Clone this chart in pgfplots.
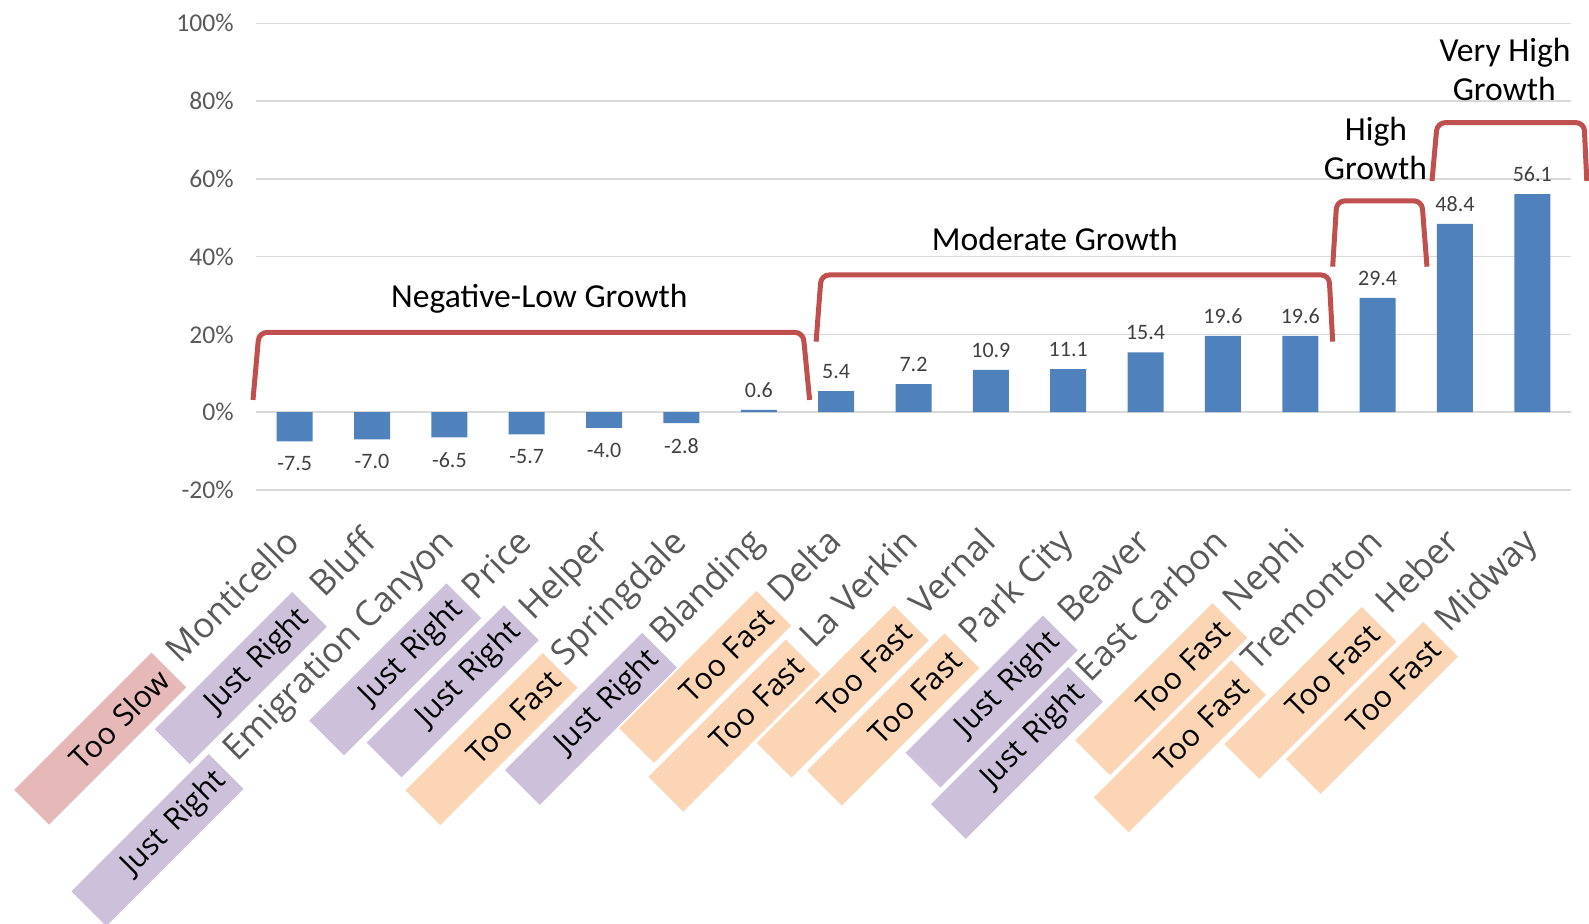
\documentclass[border=0pt]{standalone}
\usepackage{fontspec}
\setmainfont{Carlito}
\newfontfamily\osans{Open Sans}
\usepackage{pgfplots}
\pgfplotsset{compat=1.18}
\definecolor{barblue}{HTML}{4F81BD}
\definecolor{brk}{HTML}{C0504D}
\definecolor{gridc}{HTML}{D9D9D9}
\definecolor{lbl}{HTML}{595959}
\definecolor{dlbl}{HTML}{404040}
\definecolor{slowc}{HTML}{E6B9B8}
\definecolor{jrc}{HTML}{CCC0DA}
\definecolor{fastc}{HTML}{FCD5B5}
\tikzset{
  tag/.style={rotate=45, minimum height=25.5pt, text width=90pt, inner xsep=4pt, inner ysep=0pt,
    align=right, font=\osans\fontsize{15}{18}\selectfont, text=black, draw=white, line width=0.75pt},
  cat/.style={rotate=45, anchor=base east, inner sep=0pt, font=\osans\fontsize{17.5}{20}\selectfont, text=lbl},
  ann/.style={anchor=base, inner sep=0pt, font=\fontsize{16.8}{20}\selectfont, text=black},
  brkt/.style={draw=brk, line width=2.5pt, rounded corners=4pt},
}
\begin{document}
\begin{tikzpicture}
\useasboundingbox (-128pt,-217pt) rectangle (666.5pt,245pt);
\begin{axis}[
  at={(0,0)}, anchor=south west,
  scale only axis, width=657.5pt, height=233.35pt,
  xmin=-0.5, xmax=16.5, ymin=-20, ymax=100,
  clip=false,
  axis line style={draw=none},
  major tick length=0pt,
  xtick=\empty,
  ytick={-20,0,20,40,60,80,100},
  yticklabels={-20\%,0\%,20\%,40\%,60\%,80\%,100\%},
  yticklabel style={font=\fontsize{12.8}{15}\selectfont, text=lbl, anchor=east, inner sep=0pt, xshift=-11pt},
  ymajorgrids, major grid style={draw=gridc, line width=0.75pt},
  ybar, bar width=18pt,
  nodes near coords={\pgfmathprintnumber[fixed,fixed zerofill,precision=1,assume math mode=true]{\pgfplotspointmeta}},
  nodes near coords align=vertical,
]
% values below zero
\addplot[fill=barblue, draw=none, bar shift=0pt,
  nodes near coords style={font=\fontsize{11}{13}\selectfont, text=dlbl, inner xsep=0pt, inner ysep=7.3pt}]
  coordinates {(0,-7.5) (1,-7.0) (2,-6.5) (3,-5.7) (4,-4.0) (5,-2.8)};
% positive values
\addplot[fill=barblue, draw=none, bar shift=0pt,
  nodes near coords style={font=\fontsize{11}{13}\selectfont, text=dlbl, inner xsep=0pt, inner ysep=6pt}]
  coordinates {(6,0.6) (7,5.4) (8,7.2) (9,10.9) (10,11.1) (11,15.4) (12,19.6) (13,19.6) (14,29.4) (15,48.4) (16,56.1)};

% brackets
\draw[brkt] (axis cs:-0.539,3.16) -- (axis cs:-0.461,20.51) -- (axis cs:6.572,20.51) -- (axis cs:6.657,3.16);
\draw[brkt] (axis cs:6.741,18.15) -- (axis cs:6.807,35.29) -- (axis cs:13.372,35.29) -- (axis cs:13.419,18.15);
\draw[brkt] (axis cs:13.419,37.43) -- (axis cs:13.472,54.34) -- (axis cs:14.572,54.34) -- (axis cs:14.638,37.43);
\draw[brkt] (axis cs:14.703,59.46) -- (axis cs:14.771,74.45) -- (axis cs:16.669,74.45) -- (axis cs:16.704,59.46);

% group annotations
\node[ann] at (axis cs:3.163,26.81) {Negative-Low Growth};
\node[ann] at (axis cs:9.827,41.54) {Moderate Growth};
\node[ann] at (axis cs:13.978,69.82) {High};
\node[ann] at (axis cs:13.972,59.72) {Growth};
\node[ann] at (axis cs:15.647,90.13) {Very High};
\node[ann] at (axis cs:15.637,80.10) {Growth};

% tags
\node[tag, fill=slowc] at (axis cs:-2.514,-83.92) {Too Slow};
\node[tag, fill=jrc] at (axis cs:-0.695,-68.33) {Just Right};
\node[tag, fill=jrc] at (axis cs:-1.773,-110.03) {Just Right};
\node[tag, fill=jrc] at (axis cs:1.300,-66.14) {Just Right};
\node[tag, fill=jrc] at (axis cs:2.043,-71.77) {Just Right};
\node[tag, fill=fastc] at (axis cs:2.545,-84.06) {Too Fast};
\node[tag, fill=jrc] at (axis cs:3.830,-78.84) {Just Right};
\node[tag, fill=fastc] at (axis cs:5.307,-68.05) {Too Fast};
\node[tag, fill=fastc] at (axis cs:5.686,-80.59) {Too Fast};
\node[tag, fill=fastc] at (axis cs:7.085,-71.85) {Too Fast};
\node[tag, fill=fastc] at (axis cs:7.738,-79.00) {Too Fast};
\node[tag, fill=jrc] at (axis cs:9.009,-74.37) {Just Right};
\node[tag, fill=jrc] at (axis cs:9.337,-87.58) {Just Right};
\node[tag, fill=fastc] at (axis cs:11.203,-71.21) {Too Fast};
\node[tag, fill=fastc] at (axis cs:11.444,-85.86) {Too Fast};
\node[tag, fill=fastc] at (axis cs:13.132,-72.16) {Too Fast};
\node[tag, fill=fastc] at (axis cs:13.927,-76.02) {Too Fast};

% category labels
\node[cat] at (axis cs:0.09,-33.86) {Monticello};
\node[cat] at (axis cs:1.09,-33.86) {Bluff};
\node[cat] at (axis cs:2.09,-33.86) {Emigration Canyon};
\node[cat] at (axis cs:3.09,-33.86) {Price};
\node[cat] at (axis cs:4.09,-33.86) {Helper};
\node[cat] at (axis cs:5.09,-33.86) {Springdale};
\node[cat] at (axis cs:6.09,-33.86) {Blanding};
\node[cat] at (axis cs:7.09,-33.86) {Delta};
\node[cat] at (axis cs:8.09,-33.86) {La Verkin};
\node[cat] at (axis cs:9.09,-33.86) {Vernal};
\node[cat] at (axis cs:10.09,-33.86) {Park City};
\node[cat] at (axis cs:11.09,-33.86) {Beaver};
\node[cat] at (axis cs:12.09,-33.86) {East Carbon};
\node[cat] at (axis cs:13.09,-33.86) {Nephi};
\node[cat] at (axis cs:14.09,-33.86) {Tremonton};
\node[cat] at (axis cs:15.09,-33.86) {Heber};
\node[cat] at (axis cs:16.09,-33.86) {Midway};
\end{axis}
\end{tikzpicture}
\end{document}
